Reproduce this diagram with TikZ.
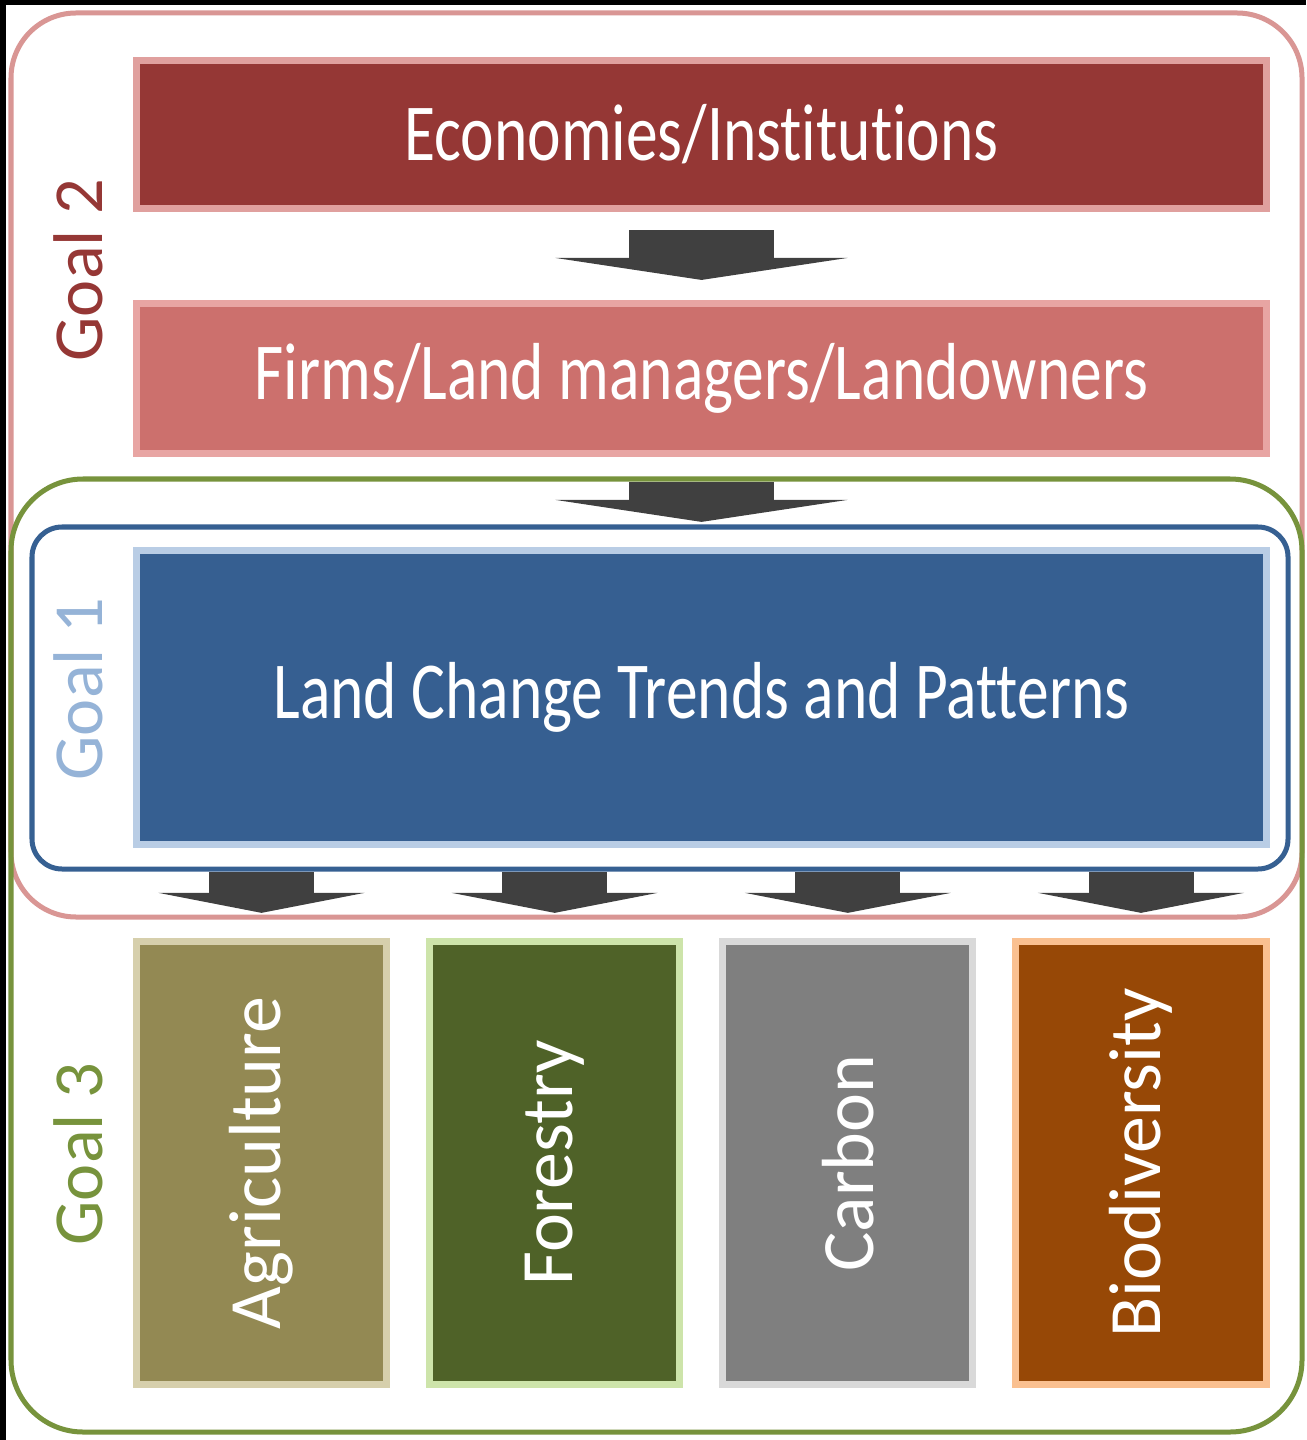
\documentclass[tikz,border=0pt]{standalone}
\usepackage{fontspec}
\setmainfont[Ligatures=NoCommon]{Carlito}
\newfontfamily\narrowfont[Ligatures=NoCommon,FakeStretch=0.785]{Carlito}
\usetikzlibrary{arrows.meta, positioning}

\definecolor{framepink}{RGB}{217,150,148}
\definecolor{econred}{RGB}{149,55,53}
\definecolor{econedge}{RGB}{224,160,158}
\definecolor{firmred}{RGB}{204,112,109}
\definecolor{firmedge}{RGB}{232,165,163}
\definecolor{frameblue}{RGB}{54,96,146}
\definecolor{landblue}{RGB}{54,95,145}
\definecolor{landedge}{RGB}{185,205,229}
\definecolor{framegreen}{RGB}{119,147,60}
\definecolor{goalblue}{RGB}{149,179,215}
\definecolor{arrgray}{RGB}{64,64,64}
\definecolor{agrifill}{RGB}{147,137,83}
\definecolor{agriedge}{RGB}{214,207,172}
\definecolor{forfill}{RGB}{79,98,40}
\definecolor{foredge}{RGB}{205,228,170}
\definecolor{carbfill}{RGB}{127,127,127}
\definecolor{carbedge}{RGB}{217,217,217}
\definecolor{biofill}{RGB}{151,72,6}
\definecolor{bioedge}{RGB}{250,192,144}

\begin{document}
\begin{tikzpicture}[x=0.01cm,y=-0.01cm,node distance=0.36cm]
  \tikzstyle{box}=[rectangle,draw,line width=0.07cm,text=white,inner sep=0pt]
  \tikzstyle{wide}=[box,minimum width=11.3cm,font=\narrowfont\fontsize{23}{27}\selectfont]
  \tikzstyle{catbox}=[box,minimum width=2.5cm,minimum height=4.43cm,font=\fontsize{21}{25}\selectfont]
  \tikzstyle{goal}=[rotate=90,font=\fontsize{20}{24}\selectfont]
  \tikzstyle{bigarr}=[draw=arrgray,line width=1.45cm,-{Triangle[width=2.92cm,length=0.22cm,line width=0pt]}]
  \tikzstyle{smallarr}=[draw=arrgray,line width=1.05cm,-{Triangle[width=2.06cm,length=0.20cm,line width=0pt]}]

  \fill[black] (0,0) rectangle (1306,1440);
  \fill[white] (6,5) rectangle (1306,1440);
  \useasboundingbox (0,0) rectangle (1306,1440);

  % goal frames
  \draw[framepink,line width=0.05cm,rounded corners=0.65cm] (11,13) rectangle (1302,917);
  \draw[framegreen,line width=0.05cm,rounded corners=0.72cm] (11,479) rectangle (1302,1432);
  \draw[frameblue,line width=0.05cm,rounded corners=0.3cm] (32,527) rectangle (1288,869);

  \node[goal,text=econred]     (G2) at (78,270)  {Goal 2};
  \node[goal,text=goalblue]    (G1) at (78,689)  {Goal 1};
  \node[goal,text=framegreen]  (G3) at (78,1154) {Goal 3};

  \node[wide,fill=econred,draw=econedge,minimum height=1.48cm] (E) at (701.5,134.5) {Economies/Institutions};
  \node[wide,fill=firmred,draw=firmedge,minimum height=1.50cm] (F) at (701.5,378.5) {Firms/Land managers/Landowners};
  \node[wide,fill=landblue,draw=landedge,minimum height=2.94cm] (L) at (701.5,697.5) {Land Change Trends and Patterns};

  \node[catbox,fill=agrifill,draw=agriedge] (A)              at (261.5,1163) {\rotatebox{90}{Agriculture}};
  \node[catbox,fill=forfill,draw=foredge]   (Fo) [right=of A]  {\rotatebox{90}{Forestry}};
  \node[catbox,fill=carbfill,draw=carbedge] (C)  [right=of Fo] {\rotatebox{90}{Carbon}};
  \node[catbox,fill=biofill,draw=bioedge]   (B)  [right=of C]  {\rotatebox{90}{Biodiversity}};

  \path (E) edge[bigarr,shorten <=0.18cm,shorten >=0.20cm] (F)
        (F) edge[bigarr,shorten <=0.25cm,shorten >=0.25cm] (L);
  \path (A |- L.south)  edge[smallarr,shorten <=0.24cm,shorten >=0.25cm] (A.north)
        (Fo |- L.south) edge[smallarr,shorten <=0.24cm,shorten >=0.25cm] (Fo.north)
        (C |- L.south)  edge[smallarr,shorten <=0.24cm,shorten >=0.25cm] (C.north)
        (B |- L.south)  edge[smallarr,shorten <=0.24cm,shorten >=0.25cm] (B.north);
\end{tikzpicture}
\end{document}
